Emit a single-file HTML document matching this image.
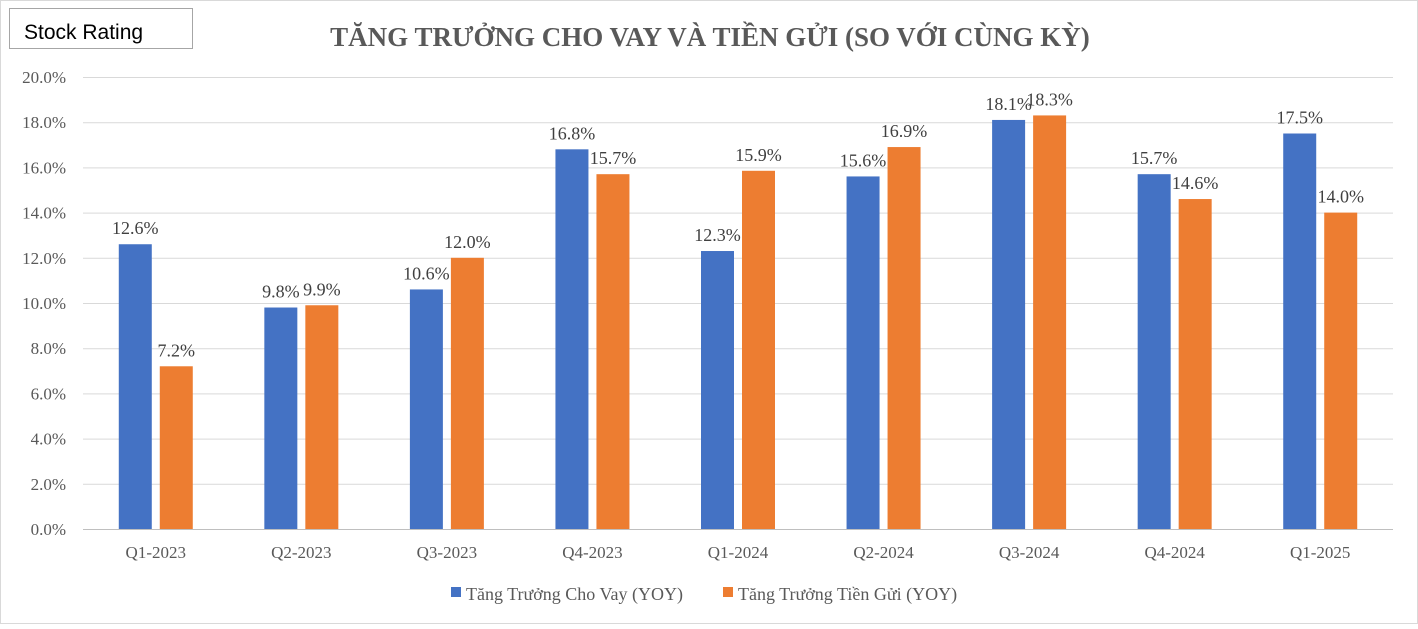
<!DOCTYPE html>
<html><head><meta charset="utf-8"><style>
body{margin:0;background:#fff;width:1418px;height:624px;overflow:hidden}
svg{font-family:"Liberation Serif","Noto Serif CJK SC",serif}
</style></head><body>
<svg width="1418" height="624">
<rect x="0.5" y="0.5" width="1417" height="623" fill="#fff" stroke="#d9d9d9"/>
<rect x="9.5" y="8.5" width="183" height="40" fill="#fff" stroke="#a6a6a6"/>
<text x="24" y="39" font-size="21" font-family="Liberation Sans, sans-serif" fill="#000">Stock Rating</text>
<text x="710" y="46" text-anchor="middle" font-size="27" font-weight="bold" fill="#595959">TĂNG TRƯỞNG CHO VAY VÀ TIỀN GỬI (SO VỚI CÙNG  KỲ)</text>
<g id="grid"></g>
<g id="yt"></g>
<g id="bars"></g>
<g id="xt"></g>
<g>
<rect x="451" y="587" width="10" height="10" fill="#4472c4"/>
<text x="466" y="600" font-size="18" fill="#595959">Tăng Trưởng Cho Vay (YOY)</text>
<rect x="723" y="587" width="10" height="10" fill="#ed7d31"/>
<text x="738" y="600" font-size="18" fill="#595959">Tăng Trưởng Tiền Gửi (YOY)</text>
</g>
</svg>
<script>
const categories=["Q1-2023","Q2-2023","Q3-2023","Q4-2023","Q1-2024","Q2-2024","Q3-2024","Q4-2024","Q1-2025"];
const loanValues=[12.6,9.8,10.6,16.8,12.3,15.6,18.1,15.7,17.5];
const depositValues=[7.2,9.9,12.0,15.7,15.85,16.9,18.3,14.6,14.0];
const loanLabels=["12.6%","9.8%","10.6%","16.8%","12.3%","15.6%","18.1%","15.7%","17.5%"];
const depositLabels=["7.2%","9.9%","12.0%","15.7%","15.9%","16.9%","18.3%","14.6%","14.0%"];
const yTicks=[0,2,4,6,8,10,12,14,16,18,20];
const NS="http://www.w3.org/2000/svg";
const x0=83,x1=1393,yTop=77,yBot=529,yMax=20;
const band=(x1-x0)/categories.length;
const y=v=>yBot-(v/yMax)*(yBot-yTop);
const xc=i=>x0+band*(i+0.5);
function mk(t,a,p){const e=document.createElementNS(NS,t);for(const k in a)e.setAttribute(k,a[k]);p.appendChild(e);return e;}
const grid=document.getElementById('grid'),yt=document.getElementById('yt'),bars=document.getElementById('bars'),xt=document.getElementById('xt');
yTicks.forEach(t=>{
 const l=mk('line',{x1:x0,x2:x1,y1:y(t)+0.5,y2:y(t)+0.5,stroke:t===0?'#bfbfbf':'#d9d9d9'},grid);
 
 
 const tx=mk('text',{x:66,y:y(t)+6,'text-anchor':'end','font-size':17,fill:'#595959'},yt);
 tx.textContent=t.toFixed(1)+'%';
 
 
});
const bw=33,gap=8;
categories.forEach((c,i)=>{
 const cx=xc(i);
 [[loanValues,loanLabels,'#4472c4',cx-gap/2-bw,'loan'],[depositValues,depositLabels,'#ed7d31',cx+gap/2,'deposit']].forEach(([vals,labs,col,bx,nm])=>{
  const r=mk('rect',{x:bx,y:y(vals[i]),width:bw,height:yBot-y(vals[i]),fill:col},bars);
  
  
  const t=mk('text',{x:bx+bw/2,y:y(vals[i])-10,'text-anchor':'middle','font-size':18,fill:'#404040'},bars);
  t.textContent=labs[i];
  
  
 });
 const t=mk('text',{x:cx,y:558,'text-anchor':'middle','font-size':17,fill:'#595959'},xt);
 t.textContent=c;
 
 
});
</script>
</body></html>
